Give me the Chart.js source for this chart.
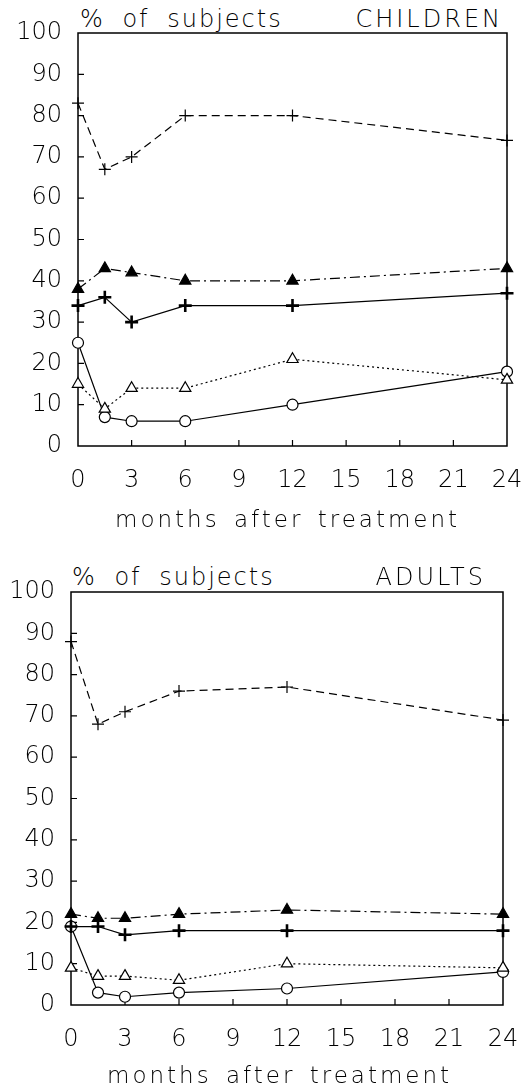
<!DOCTYPE html>
<html>
<head>
<meta charset="utf-8">
<script src="https://cdn.jsdelivr.net/npm/chart.js@4"></script>
<style>
  body { margin: 0; background: #fff; }
  #page { position: relative; width: 527px; height: 1091px; background: #fff; overflow: hidden; }
  canvas { position: absolute; left: 0; }
  .txt { position: absolute; font-family: "DejaVu Sans", sans-serif; font-weight: 200; color: #000;
         font-size: 24px; line-height: 24px; white-space: nowrap; }
  .head { letter-spacing: 2px; word-spacing: 8px; }
  .group { letter-spacing: 3px; }
  .xtitle { font-size: 23px; line-height: 23px; letter-spacing: 3px; word-spacing: 4px; }
</style>
</head>
<body>
<div id="page">
  <div class="txt head" style="left:80px; top:7px;">% of subjects</div>
  <div class="txt group" style="right:24px; top:7px;">CHILDREN</div>
  <canvas id="children" width="527" height="535" style="top:0"></canvas>
  <div class="txt xtitle" style="left:115px; top:508px;">months after treatment</div>

  <div class="txt head" style="left:72px; top:565px;">% of subjects</div>
  <div class="txt group" style="right:41px; top:565px;">ADULTS</div>
  <canvas id="adults" width="527" height="551" style="top:540px"></canvas>
  <div class="txt xtitle" style="left:107px; top:1064px;">months after treatment</div>
</div>
<script>
"use strict";

// months after treatment at which subjects were examined
const months = [0, 1.5, 3, 6, 12, 24];
const xTicks = [0, 3, 6, 9, 12, 15, 18, 21, 24];
const yTicks = [0, 10, 20, 30, 40, 50, 60, 70, 80, 90, 100];

// children (% of subjects)
const childDashedCross = [83, 67, 70, 80, 80, 74];
const childFilledTri = [38, 43, 42, 40, 40, 43];
const childBoldCross = [34, 36, 30, 34, 34, 37];
const childOpenTri = [15, 9, 14, 14, 21, 16];
const childCircle = [25, 7, 6, 6, 10, 18];

// adults (% of subjects)
const adultDashedCross = [88, 68, 71, 76, 77, 69];
const adultFilledTri = [22, 21, 21, 22, 23, 22];
const adultBoldCross = [19, 19, 17, 18, 18, 18];
const adultOpenTri = [9, 7, 7, 6, 10, 9];
const adultCircle = [19, 3, 2, 3, 4, 8];

const FONT = '"DejaVu Sans", sans-serif';

// box round the plot + short inward tick marks
const framePlugin = {
    id: 'frame',
    beforeDatasetsDraw(chart) {
        const {ctx, chartArea: a, scales} = chart;
        ctx.save();
        ctx.strokeStyle = '#000';
        ctx.lineWidth = 1.5;
        ctx.strokeRect(a.left, a.top, a.right - a.left, a.bottom - a.top);
        ctx.lineWidth = 1.2;
        ctx.beginPath();
        xTicks.slice(1, -1).forEach(v => {
            const x = scales.x.getPixelForValue(v);
            ctx.moveTo(x, a.bottom);
            ctx.lineTo(x, a.bottom - 6);
        });
        yTicks.slice(1, -1).forEach(v => {
            const y = scales.y.getPixelForValue(v);
            ctx.moveTo(a.left, y);
            ctx.lineTo(a.left + 6, y);
        });
        ctx.stroke();
        ctx.restore();
    }
};

function series(values, dash, style, radius, fill, width) {
    return {
        data: months.map((m, i) => ({x: m, y: values[i]})),
        borderColor: '#000',
        borderWidth: 1.2,
        borderDash: dash,
        tension: 0,
        clip: false,
        pointStyle: style,
        pointRadius: radius,
        pointBorderColor: '#000',
        pointBackgroundColor: fill,
        pointBorderWidth: width
    };
}

function makeChart(id, data, box) {
    const ctx = document.getElementById(id).getContext('2d');
    return new Chart(ctx, {
        type: 'line',
        data: {
            datasets: [
                series(data[0], [8, 5], 'cross', 6, '#000', 1.2),
                series(data[1], [10, 4, 2, 4], 'triangle', 6.5, '#000', 1.2),
                series(data[2], [], 'cross', 6.5, '#000', 2.6),
                series(data[3], [2, 3], 'triangle', 6.5, '#fff', 1.2),
                series(data[4], [], 'circle', 5.5, '#fff', 1.2)
            ]
        },
        options: {
            responsive: false,
            animation: false,
            layout: {
                padding: {top: box.top, right: box.right, left: 0, bottom: 0}
            },
            plugins: {
                legend: {display: false},
                tooltip: {enabled: false}
            },
            scales: {
                x: {
                    type: 'linear',
                    min: 0,
                    max: 24,
                    afterBuildTicks: s => { s.ticks = xTicks.map(v => ({value: v})); },
                    afterFit: s => { s.height = box.xHeight; },
                    // invisible tick length pushes the labels down without widening the side padding
                    grid: {display: false, drawTicks: true, tickLength: 20, color: 'rgba(0,0,0,0)'},
                    border: {display: false},
                    ticks: {
                        color: '#000',
                        padding: 0,
                        maxRotation: 0,
                        autoSkip: false,
                        font: {family: FONT, size: 24, weight: 200}
                    }
                },
                y: {
                    min: 0,
                    max: 100,
                    afterBuildTicks: s => { s.ticks = yTicks.map(v => ({value: v})); },
                    afterFit: s => { s.width = box.left; },
                    grid: {display: false, drawTicks: false},
                    border: {display: false},
                    ticks: {
                        color: '#000',
                        padding: 16,
                        autoSkip: false,
                        font: {family: FONT, size: 24, weight: 200}
                    }
                }
            }
        },
        plugins: [framePlugin]
    });
}

makeChart('children',
    [childDashedCross, childFilledTri, childBoldCross, childOpenTri, childCircle],
    {top: 33, right: 20, left: 78, xHeight: 89});

makeChart('adults',
    [adultDashedCross, adultFilledTri, adultBoldCross, adultOpenTri, adultCircle],
    {top: 52, right: 24, left: 71, xHeight: 86});
</script>
</body>
</html>
